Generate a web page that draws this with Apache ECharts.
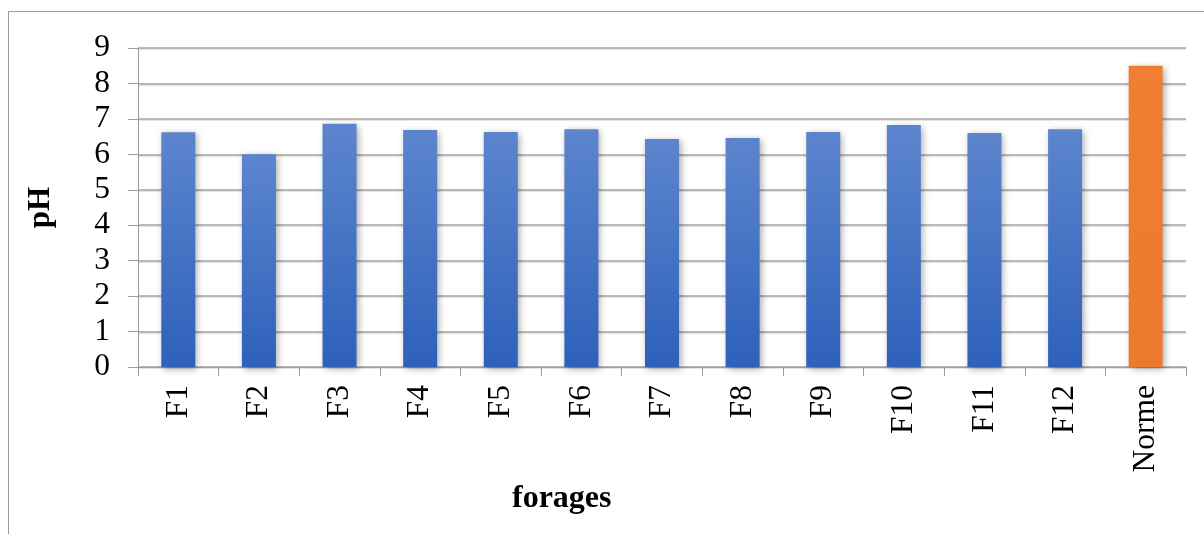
<!DOCTYPE html>
<html>
<head>
<meta charset="utf-8">
<script src="https://cdn.jsdelivr.net/npm/echarts@6/dist/echarts.min.js"></script>
<style>
  html, body { margin: 0; padding: 0; background: #ffffff; }
  #chart { width: 1204px; height: 534px; }
</style>
</head>
<body>
<div id="chart"></div>
<script>
// pH measured in each borehole, with the reference standard at the end
const categories = ['F1', 'F2', 'F3', 'F4', 'F5', 'F6', 'F7', 'F8', 'F9', 'F10', 'F11', 'F12', 'Norme'];
const phValues = [6.62, 6.0, 6.86, 6.69, 6.63, 6.71, 6.43, 6.46, 6.63, 6.83, 6.60, 6.71, 8.5];
const yTicks = [0, 1, 2, 3, 4, 5, 6, 7, 8, 9];
const xTitle = 'forages';
const yTitle = 'pH';

const serif = '"Liberation Serif", "Times New Roman", serif';

const blueFill = new echarts.graphic.LinearGradient(0, 0, 0, 1, [
  { offset: 0, color: '#5c85cd' },
  { offset: 1, color: '#2e61bb' }
]);
const orangeFill = new echarts.graphic.LinearGradient(0, 0, 0, 1, [
  { offset: 0, color: '#ee7f33' },
  { offset: 1, color: '#ec7a2e' }
]);

const barData = phValues.map((v, i) => ({
  value: v,
  itemStyle: { color: categories[i] === 'Norme' ? orangeFill : blueFill }
}));

const chart = echarts.init(document.getElementById('chart'), null, { renderer: 'canvas' });
chart.setOption({
  animation: false,
  backgroundColor: '#ffffff',
  grid: { left: 138, right: 18, top: 48, bottom: 167, containLabel: false },
  graphic: [
    {
      type: 'rect',
      shape: { x: 8.5, y: 11.5, width: 1300, height: 700 },
      style: { fill: 'none', stroke: '#9a9a9a', lineWidth: 1 },
      silent: true
    },
    {
      type: 'text',
      left: 512, top: 483,
      style: { text: xTitle, font: 'bold 32px ' + serif, fill: '#000' },
      silent: true
    }
  ],
  xAxis: {
    type: 'category',
    data: categories,
    axisLine: { show: true, lineStyle: { color: '#9c9c9c', width: 1 } },
    axisTick: { show: true, length: 9, lineStyle: { color: '#9c9c9c' } },
    axisLabel: {
      rotate: 90,
      margin: 18,
      color: '#000',
      fontFamily: serif,
      fontSize: 31.5,
      interval: 0
    },
    splitLine: { show: false }
  },
  yAxis: {
    type: 'value',
    min: 0,
    max: 9,
    interval: 1,
    name: yTitle,
    nameLocation: 'middle',
    nameGap: 82,
    nameRotate: 90,
    nameTextStyle: { fontFamily: serif, fontSize: 31, fontWeight: 'bold', color: '#000' },
    axisLine: { show: true, lineStyle: { color: '#9c9c9c', width: 1 } },
    axisTick: { show: true, inside: false, length: 10, lineStyle: { color: '#9c9c9c' } },
    axisLabel: {
      margin: 28,
      color: '#000',
      fontFamily: serif,
      fontSize: 31.5,
      formatter: v => (yTicks.includes(v) ? String(v) : '')
    },
    splitLine: {
      show: true,
      lineStyle: {
        color: '#a4a4a4',
        width: 1.5,
        shadowColor: 'rgba(0,0,0,0.15)',
        shadowBlur: 1,
        shadowOffsetY: 1
      }
    }
  },
  series: [
    {
      type: 'bar',
      data: barData,
      barWidth: 34,
      itemStyle: {
        shadowColor: 'rgba(0,0,0,0.35)',
        shadowBlur: 7,
        shadowOffsetX: 2,
        shadowOffsetY: 2
      }
    }
  ]
});
</script>
</body>
</html>
